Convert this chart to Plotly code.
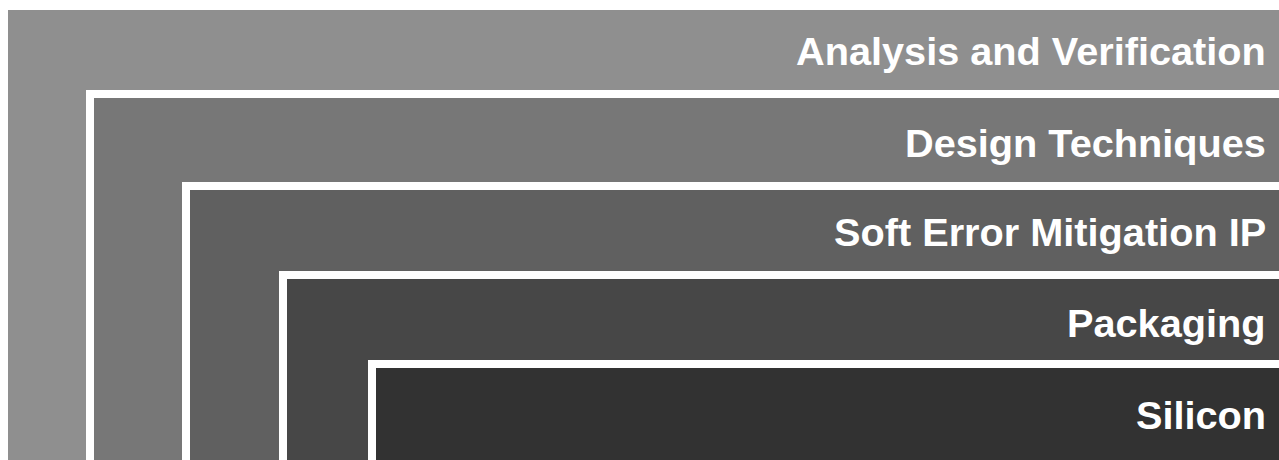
import plotly.graph_objects as go

# Data: layers from outermost to innermost
layers = ["Analysis and Verification", "Design Techniques", "Soft Error Mitigation IP", "Packaging", "Silicon"]
shades = ["#8f8f8f", "#777777", "#606060", "#474747", "#323232"]

# Layout geometry (pixels in a 1279x460 canvas)
W, H = 1279, 460
left_edges = [8, 94, 190, 287, 376]
top_edges = [10, 98, 190, 279, 368]
label_y = [51, 143, 232, 323, 415]
border = 8
label_right = 1268

fig = go.Figure()
shapes = []
for i, (name, col) in enumerate(zip(layers, shades)):
    x0, y0 = left_edges[i], top_edges[i]
    if i > 0:
        shapes.append(dict(type="rect", xref="x", yref="y", x0=x0 - border, y0=y0 - border,
                           x1=W + 20, y1=H + 20, fillcolor="white", line=dict(width=0), layer="below"))
    shapes.append(dict(type="rect", xref="x", yref="y", x0=x0, y0=y0,
                       x1=W + 20, y1=H + 20, fillcolor=col, line=dict(width=0), layer="below"))

annotations = []
for i, name in enumerate(layers):
    annotations.append(dict(x=label_right, y=label_y[i], xref="x", yref="y", text="<b>" + name + "</b>",
                            showarrow=False, xanchor="right", yanchor="middle",
                            font=dict(family="Liberation Sans, Arial, Helvetica, sans-serif", size=39.7, color="white")))

fig.add_trace(go.Scatter(x=[0, W], y=[0, H], mode="markers", marker=dict(opacity=0), hoverinfo="skip", showlegend=False))
fig.update_layout(
    width=W, height=H, margin=dict(l=0, r=0, t=0, b=0),
    paper_bgcolor="white", plot_bgcolor="white",
    xaxis=dict(range=[0, W], visible=False, fixedrange=True),
    yaxis=dict(range=[H, 0], visible=False, fixedrange=True),
    shapes=shapes, annotations=annotations, showlegend=False,
)
fig.write_html("out.html", config={"displayModeBar": False},
               post_script="document.body.style.margin='0px';document.body.style.overflow='hidden';")
